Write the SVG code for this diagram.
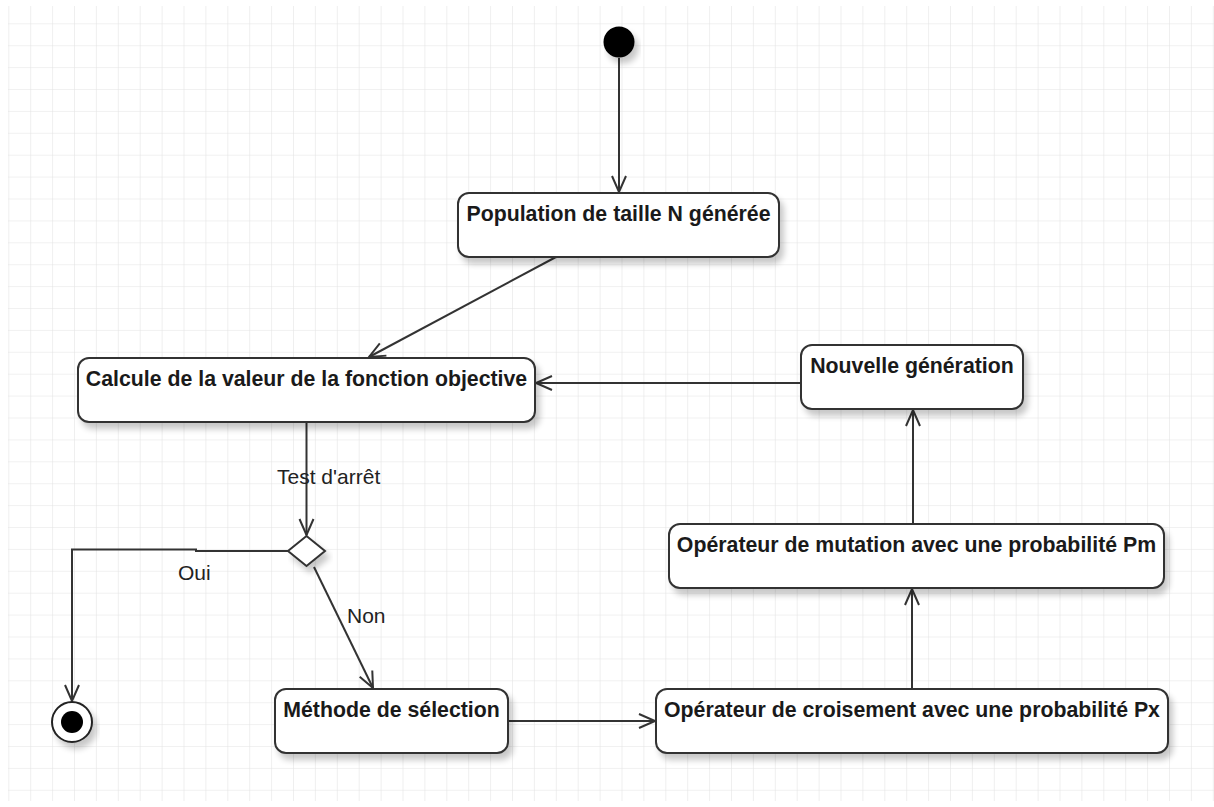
<svg xmlns="http://www.w3.org/2000/svg" width="1214" height="807" viewBox="0 0 1214 807">
<style>
.box{fill:#fff;stroke:#333;stroke-width:2}
.t{font-family:"Liberation Sans",Arial,sans-serif;font-weight:bold;font-size:21.3px;fill:#1a1a1a;text-anchor:middle}
.lbl{font-family:"Liberation Sans",Arial,sans-serif;font-size:21px;fill:#222}
.c{fill:none;stroke:#333;stroke-width:2}
</style>
<defs>
<pattern id="grid" patternUnits="userSpaceOnUse" x="8.3" y="1.4" width="21.9" height="21.9">
<path d="M0 0 H21.9 M0 0 V21.9" fill="none" stroke="#e4e4e4" stroke-width="1.2"/>
</pattern>
<filter id="sh" x="-10%" y="-20%" width="130%" height="160%">
<feGaussianBlur in="SourceAlpha" stdDeviation="3"/>
<feOffset dx="4" dy="6" result="o"/>
<feComponentTransfer><feFuncA type="linear" slope="0.22"/></feComponentTransfer>
<feMerge><feMergeNode/><feMergeNode in="SourceGraphic"/></feMerge>
</filter>
<marker id="arr" markerUnits="userSpaceOnUse" markerWidth="20" markerHeight="20" viewBox="-18 -10 20 20" refX="0" refY="0" orient="auto">
<path d="M-16 -7 L0 0 L-16 7" fill="none" stroke="#333" stroke-width="2"/>
</marker>
</defs>
<rect width="1214" height="807" fill="#fff"/>
<rect x="8" y="6" width="1206" height="795" fill="url(#grid)"/>

<g id="connectors">
<path class="c" d="M619 58 V192" marker-end="url(#arr)"/>
<path class="c" d="M556 257 L369 357" marker-end="url(#arr)"/>
<path class="c" d="M801 383 H536" marker-end="url(#arr)"/>
<path class="c" d="M306.5 422 V535" marker-end="url(#arr)"/>
<path class="c" d="M288 551 H196 V549.5 H72 V701" marker-end="url(#arr)"/>
<path class="c" d="M314 567 L373 688" marker-end="url(#arr)"/>
<path class="c" d="M508 721 H655" marker-end="url(#arr)"/>
<path class="c" d="M912 688 V589" marker-end="url(#arr)"/>
<path class="c" d="M913 524 V410" marker-end="url(#arr)"/>
<text class="lbl" x="277" y="484">Test d'arrêt</text>
<text class="lbl" x="178" y="580">Oui</text>
<text class="lbl" x="347" y="623">Non</text>
</g>

<g id="start">
<circle cx="619" cy="42" r="15.5" fill="#000" filter="url(#sh)"/>
</g>

<g id="population">
<rect class="box" x="458" y="193" width="321" height="64" rx="11" filter="url(#sh)"/>
<text class="t" x="618.5" y="220.5">Population de taille N générée</text>
</g>

<g id="calcule">
<rect class="box" x="78" y="358" width="457" height="64" rx="11" filter="url(#sh)"/>
<text class="t" x="306.5" y="385.5">Calcule de la valeur de la fonction objective</text>
</g>

<g id="nouvelle">
<rect class="box" x="801" y="345" width="222" height="64" rx="11" filter="url(#sh)"/>
<text class="t" x="912" y="373">Nouvelle génération</text>
</g>

<g id="mutation">
<rect class="box" x="669" y="524" width="495" height="64" rx="11" filter="url(#sh)"/>
<text class="t" x="916.5" y="551.5">Opérateur de mutation avec une probabilité Pm</text>
</g>

<g id="croisement">
<rect class="box" x="656" y="689" width="512" height="64" rx="11" filter="url(#sh)"/>
<text class="t" x="912" y="716.5">Opérateur de croisement avec une probabilité Px</text>
</g>

<g id="selection">
<rect class="box" x="275" y="689" width="233" height="64" rx="11" filter="url(#sh)"/>
<text class="t" x="391.5" y="716.5">Méthode de sélection</text>
</g>

<g id="decision">
<polygon class="box" points="306.5,536 325,551 306.5,566 288,551" filter="url(#sh)"/>
</g>

<g id="end">
<circle cx="72" cy="722" r="20" fill="#fff" stroke="#222" stroke-width="2" filter="url(#sh)"/>
<circle cx="72" cy="722" r="11" fill="#000"/>
</g>
</svg>
